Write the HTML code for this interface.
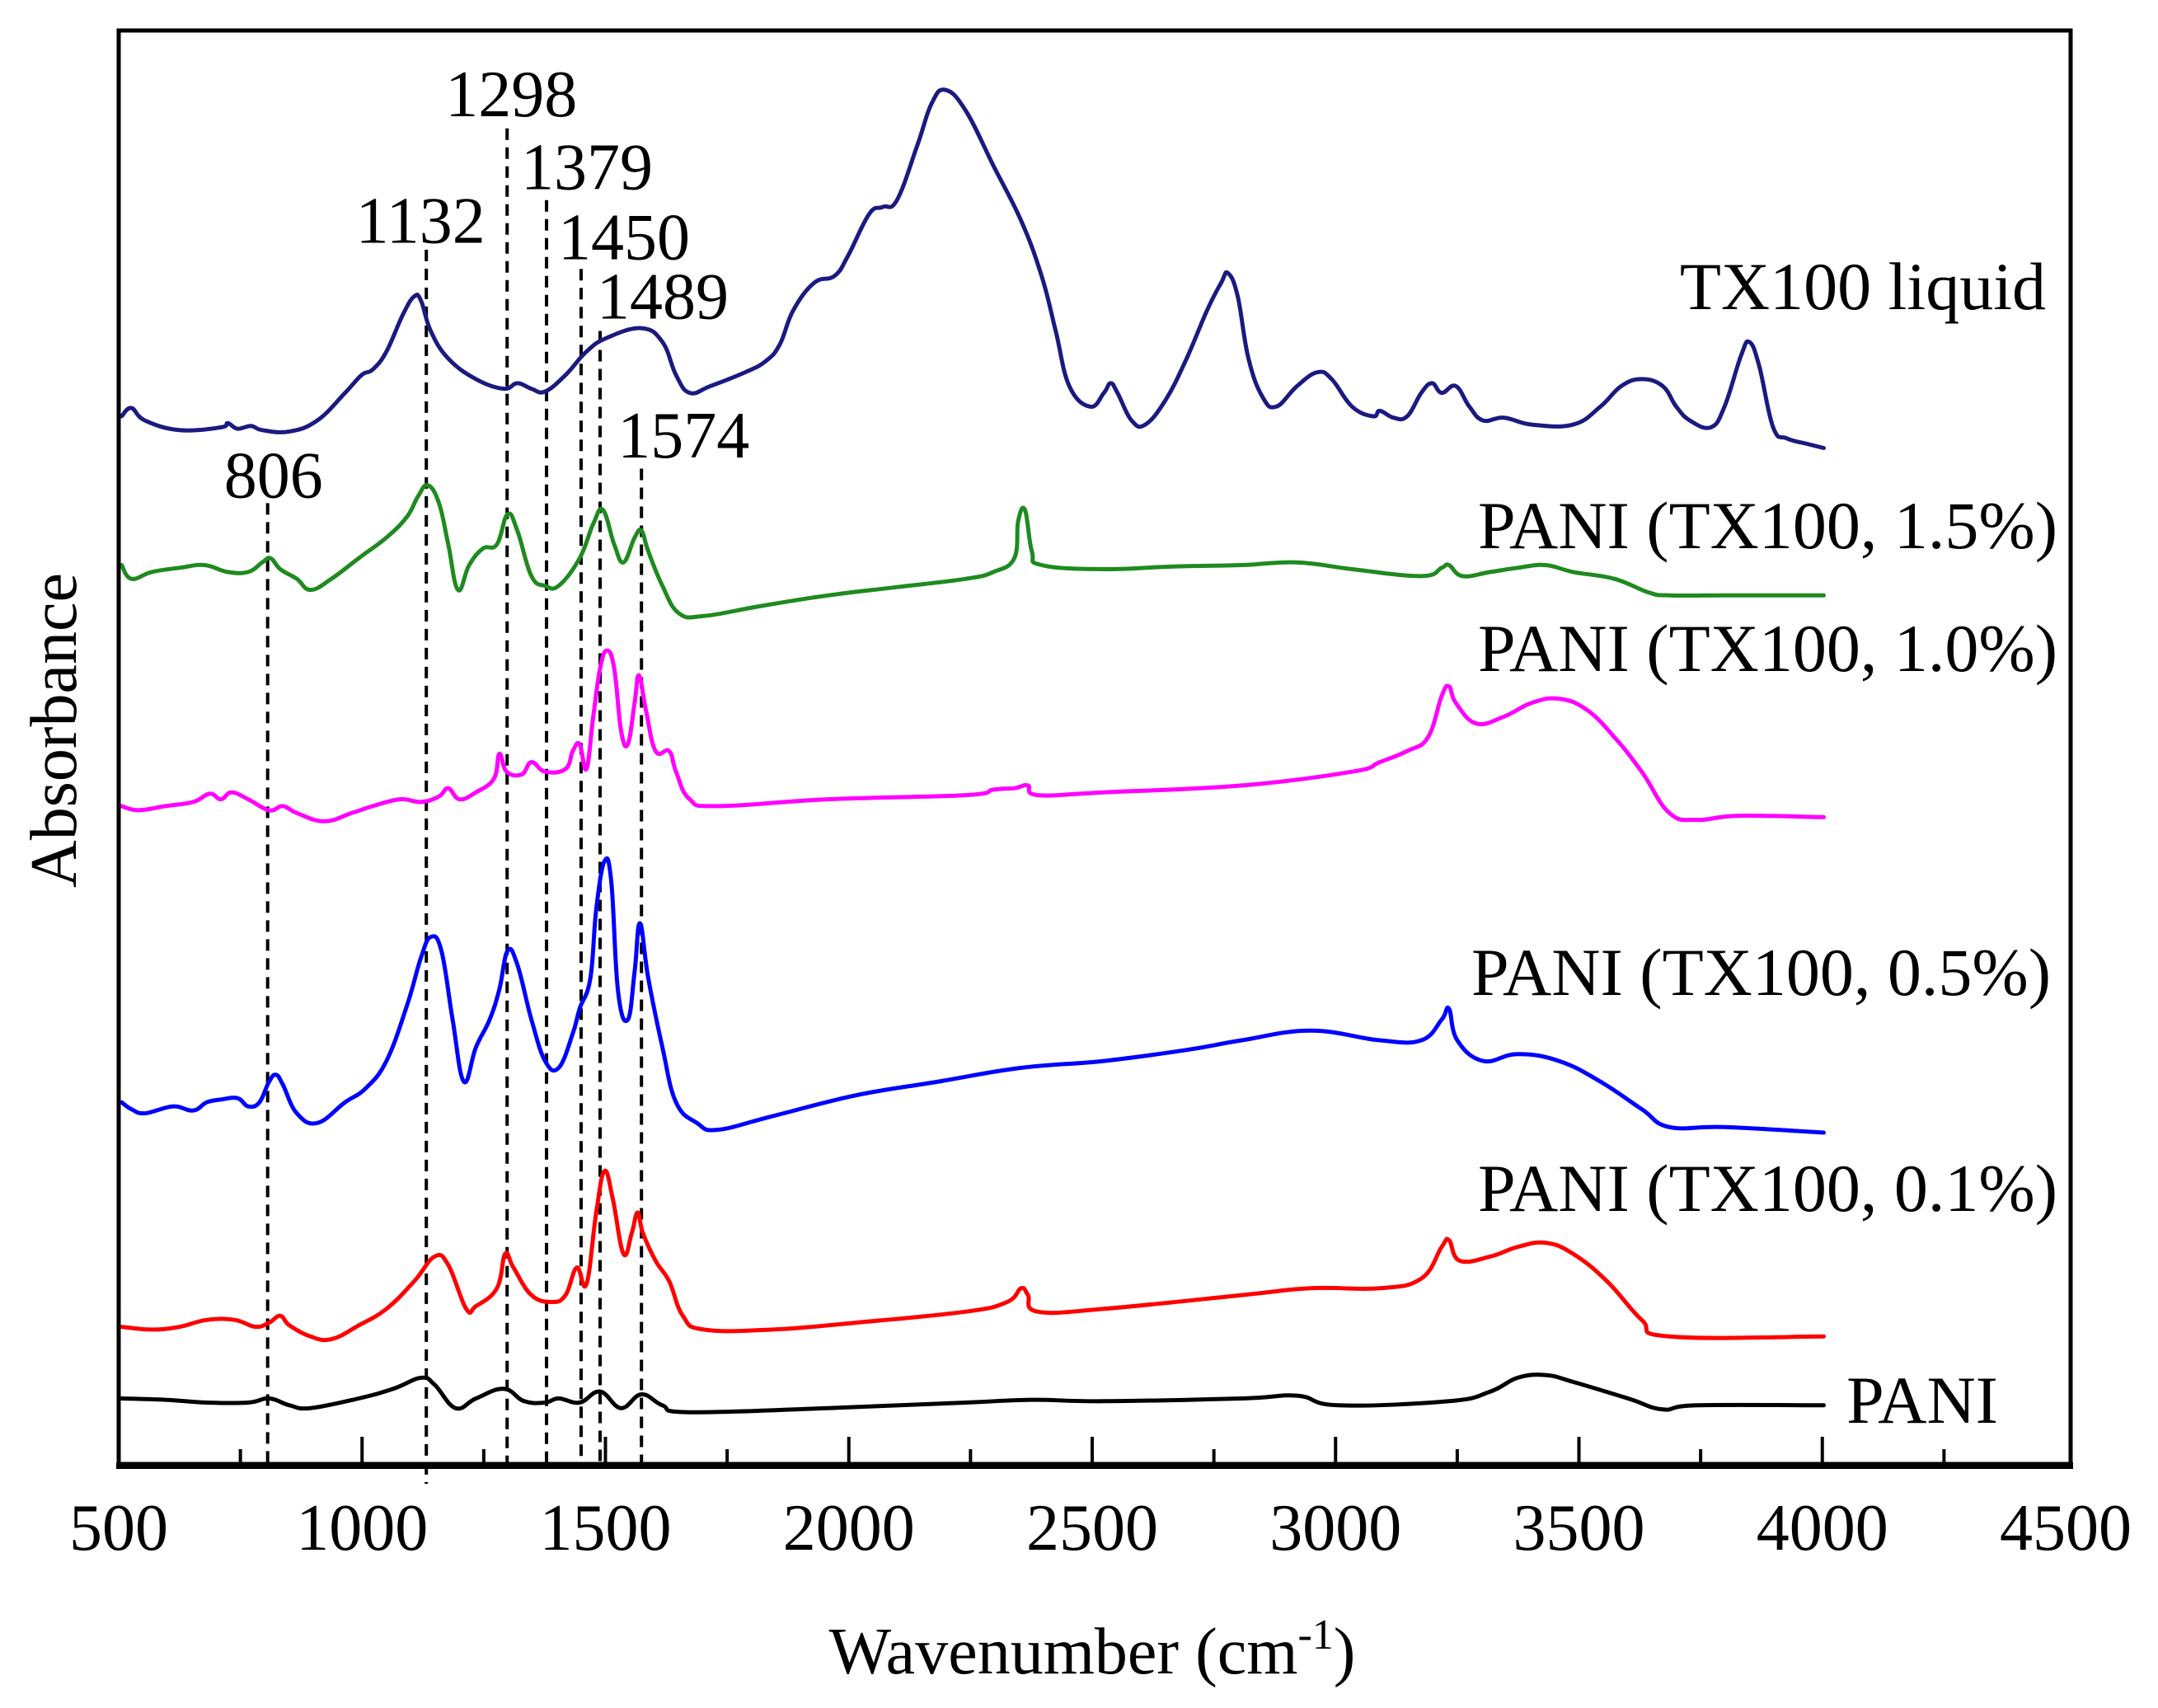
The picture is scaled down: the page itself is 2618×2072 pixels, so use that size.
<!DOCTYPE html>
<html><head><meta charset="utf-8"><style>
html,body{margin:0;padding:0;background:#fff;}
svg{display:block;}
text{font-family:"Liberation Serif","DejaVu Serif",serif;fill:#000;}
</style></head><body>
<svg id="chart" width="2618" height="2072" viewBox="0 0 2618 2072" xmlns="http://www.w3.org/2000/svg">
<g id="marks"></g>
<rect x="144" y="37" width="2368" height="1739" fill="none" stroke="#000" stroke-width="5"/>
<line x1="141" y1="1778" x2="2515" y2="1778" stroke="#000" stroke-width="8"/>
<g id="ticks"></g>
<text x="1325" y="2030" font-size="80" text-anchor="middle">Wavenumber (cm<tspan dy="-30" font-size="52">-1</tspan><tspan dy="30">)</tspan></text>
<text x="0" y="0" font-size="80" text-anchor="middle" transform="translate(92,886) rotate(-90)">Absorbance</text>
</svg>
<script>
const xTicks = [500,1000,1500,2000,2500,3000,3500,4000,4500];
const peakLines = [806,1132,1298,1379,1450,1489,1574];
const peakLabels = ["806","1132","1298","1379","1450","1489","1574"];
const peakTopAbs = [697,881,969,917,867,822,722];
const peakLabelAbs = [701,886,978,925,874,831,730];
const peakLabelDx = [7,-7,5,49,52,76,51];
const seriesNames = ["TX100 liquid","PANI (TX100, 1.5%)","PANI (TX100, 1.0%)","PANI (TX100, 0.5%)","PANI (TX100, 0.1%)","PANI"];
const seriesColors = ["#1a1a80","#1f8a1f","#ff00ff","#0000ff","#ff0000","#000000"];
const txWn = [506,526,554,625,710,724,744,772,795,851,908,965,999,1022,1050,1084,1107,1121,1141,1177,1234,1291,1319,1348,1376,1418,1461,1503,1574,1617,1645,1673,1716,1787,1829,1858,1886,1929,1971,1999,2042,2070,2099,2141,2170,2198,2240,2297,2354,2396,2425,2453,2496,2524,2538,2552,2581,2609,2651,2694,2736,2765,2779,2799,2821,2850,2878,2921,2963,2992,3034,3077,3091,3119,3147,3176,3198,3218,3247,3275,3303,3346,3403,3488,3544,3587,3629,3672,3700,3728,3771,3799,3833,3850,3870,3899,3927,3969,4003];
const txAbs = [760,766,757,750,752,755,751,753,750,749,757,777,790,794,807,834,847,844,822,802,787,780,784,780,778,790,807,817,824,814,790,777,782,792,800,812,837,857,862,877,907,912,917,957,987,997,982,942,902,862,822,782,767,777,784,777,757,754,772,802,837,857,864,847,802,774,767,782,792,787,767,760,764,759,760,777,784,777,782,767,757,759,754,754,767,782,787,782,767,757,752,767,804,814,797,752,744,740,737];
const p15Wn = [506,526,568,625,676,724,766,795,812,832,866,894,937,993,1050,1092,1115,1135,1158,1177,1197,1220,1248,1277,1299,1319,1348,1376,1404,1447,1475,1495,1518,1537,1560,1574,1588,1617,1651,1702,1815,1957,2099,2240,2297,2340,2348,2362,2376,2396,2524,2666,2807,2921,3034,3176,3218,3233,3261,3318,3374,3431,3488,3573,3644,3686,3799,4003];
const p15Abs = [652,642,647,650,652,647,647,654,657,649,642,634,642,657,672,687,702,710,697,667,634,652,664,667,689,677,644,637,637,657,682,692,667,654,672,677,662,637,617,615,622,630,636,642,647,657,684,692,662,652,649,651,652,654,649,644,650,652,644,647,650,652,647,642,632,630,630,630];
const p10Wn = [506,540,596,653,687,710,732,766,809,837,866,922,979,1022,1078,1121,1158,1177,1200,1234,1271,1282,1297,1328,1348,1376,1418,1433,1447,1461,1475,1489,1503,1518,1532,1546,1560,1569,1583,1603,1631,1645,1673,1730,1957,2240,2297,2340,2368,2388,2524,2807,3034,3091,3147,3190,3218,3233,3247,3289,3346,3403,3459,3516,3573,3629,3686,3743,3828,4003];
const p10Abs = [477,474,477,480,486,482,487,482,474,477,472,466,472,477,482,480,484,490,482,487,497,515,502,500,509,502,504,517,522,504,542,577,590,577,532,522,552,572,547,517,517,502,482,477,482,485,489,490,492,485,487,492,502,509,517,527,557,564,552,537,542,552,555,547,527,502,472,467,470,469];
const p05Wn = [506,526,554,611,653,681,710,744,766,789,809,823,837,866,908,965,1007,1050,1092,1121,1141,1163,1186,1209,1234,1262,1282,1299,1319,1348,1376,1404,1433,1447,1469,1481,1498,1512,1526,1546,1560,1571,1588,1617,1645,1688,1730,1844,2014,2184,2354,2524,2694,2807,2949,3091,3176,3218,3233,3250,3303,3374,3459,3544,3629,3686,3799,4003];
const p05Abs = [262,257,254,259,256,262,264,265,259,262,277,282,275,254,247,262,272,292,332,367,382,372,322,277,302,322,344,372,362,322,292,287,312,330,352,402,437,422,342,322,357,392,352,302,262,247,242,252,267,277,287,292,300,307,314,307,307,322,330,307,292,297,292,277,257,244,244,240];
const p01Wn = [506,568,625,681,738,781,809,832,851,894,937,993,1050,1107,1149,1177,1214,1234,1277,1294,1311,1348,1390,1418,1441,1461,1481,1498,1515,1537,1554,1566,1577,1603,1631,1659,1702,1844,2014,2240,2325,2354,2368,2388,2524,2807,2949,3091,3176,3218,3233,3255,3318,3374,3431,3488,3558,3629,3686,4003];
const p01Abs = [99,97,99,104,104,99,102,107,100,92,90,100,112,132,150,144,112,114,127,152,142,122,117,122,142,130,182,212,192,152,167,182,167,147,132,107,97,97,102,110,117,127,122,110,112,122,127,127,134,157,162,147,150,157,160,152,132,104,92,92];
const paniWn = [506,596,681,766,809,851,894,993,1064,1121,1149,1192,1234,1291,1333,1376,1404,1447,1489,1532,1574,1617,1673,1957,2240,2374,2524,2807,2921,3006,3233,3318,3374,3431,3488,3601,3672,3743,4003];
const paniAbs = [47,46,44,44,47,42,40,47,54,62,57,40,47,54,45,44,47,44,52,40,50,42,37,40,44,46,45,47,49,42,45,52,62,64,59,47,39,42,42];
const labelPos = [[2482,375],[2496,665],[2496,814],[2488,1207],[2496,1469],[2424,1726]];

const NS = "http://www.w3.org/2000/svg";
function xs(w){ return 144 + (w-500)*0.5905; }
function ys(a){ return 1775 - a*1.671; }
const marks = document.getElementById('marks');
const ticks = document.getElementById('ticks');

for (let i=0;i<16;i++){
  const w = 500 + i*250;
  const t = document.createElementNS(NS,'line');
  const len = (i%2===0)?33:18;
  t.setAttribute('x1',xs(w)); t.setAttribute('x2',xs(w));
  t.setAttribute('y1',1776); t.setAttribute('y2',1776-len);
  t.setAttribute('stroke','#000'); t.setAttribute('stroke-width','4');
  
  
  ticks.appendChild(t);
}
xTicks.forEach(v=>{
  const t = document.createElementNS(NS,'text');
  t.setAttribute('x',xs(v)); t.setAttribute('y',1880);
  t.setAttribute('font-size','80'); t.setAttribute('text-anchor','middle');
  t.textContent = v;
  
  
  ticks.appendChild(t);
});

peakLines.forEach((w,i)=>{
  const l = document.createElementNS(NS,'line');
  l.setAttribute('x1',xs(w)); l.setAttribute('x2',xs(w));
  l.setAttribute('y1',ys(peakTopAbs[i])); l.setAttribute('y2', i===1?1800:1776);
  l.setAttribute('stroke','#000'); l.setAttribute('stroke-width','4');
  l.setAttribute('stroke-dasharray','14 9');
  
  
  marks.appendChild(l);
});
peakLabels.forEach((s,i)=>{
  const t = document.createElementNS(NS,'text');
  t.setAttribute('x',xs(peakLines[i])+peakLabelDx[i]);
  t.setAttribute('y',ys(peakLabelAbs[i]));
  t.setAttribute('font-size','80'); t.setAttribute('text-anchor','middle');
  t.textContent = s;
  
  
  marks.appendChild(t);
});

const allWn = [txWn,p15Wn,p10Wn,p05Wn,p01Wn,paniWn];
const allAbs = [txAbs,p15Abs,p10Abs,p05Abs,p01Abs,paniAbs];
const keys = ['tx100-liquid','pani-tx100-1.5','pani-tx100-1.0','pani-tx100-0.5','pani-tx100-0.1','pani'];
function smoothPath(P){
  let d = 'M'+P[0][0].toFixed(1)+','+P[0][1].toFixed(1);
  for(let i=0;i<P.length-1;i++){
    const p0=P[Math.max(0,i-1)], p1=P[i], p2=P[i+1], p3=P[Math.min(P.length-1,i+2)];
    const t=0.2;
    const c1=[p1[0]+(p2[0]-p0[0])*t, p1[1]+(p2[1]-p0[1])*t];
    const c2=[p2[0]-(p3[0]-p1[0])*t, p2[1]-(p3[1]-p1[1])*t];
    d+='C'+c1[0].toFixed(1)+','+c1[1].toFixed(1)+' '+c2[0].toFixed(1)+','+c2[1].toFixed(1)+' '+p2[0].toFixed(1)+','+p2[1].toFixed(1);
  }
  return d;
}
allWn.forEach((wn,k)=>{
  const ab = allAbs[k];
  const P = wn.map((w,i)=>[xs(w),ys(ab[i])]);
  const p = document.createElementNS(NS,'path');
  p.setAttribute('d',smoothPath(P)); p.setAttribute('fill','none');
  p.setAttribute('stroke',seriesColors[k]); p.setAttribute('stroke-width','5');
  p.setAttribute('stroke-linejoin','round'); p.setAttribute('stroke-linecap','round');
  
  
  marks.appendChild(p);
  const t = document.createElementNS(NS,'text');
  t.setAttribute('x',labelPos[k][0]); t.setAttribute('y',labelPos[k][1]);
  t.setAttribute('font-size','82'); t.setAttribute('text-anchor','end');
  t.textContent = seriesNames[k];
  
  
  marks.appendChild(t);
});
</script>
</body></html>
